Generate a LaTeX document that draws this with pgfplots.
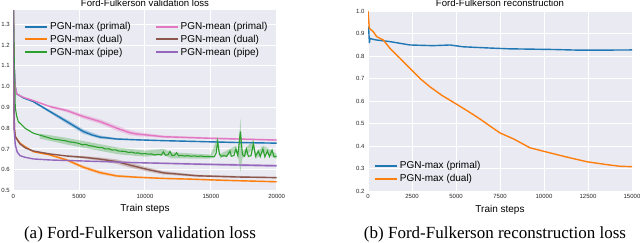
\documentclass[border=0pt]{standalone}
\usepackage{pgfplots}
\pgfplotsset{compat=1.18}
\usepackage{fontspec}
\setmainfont{Liberation Sans}
\newfontfamily\capfont{Liberation Serif}
\definecolor{sbbg}{HTML}{EAEAF2}
\definecolor{cblue}{HTML}{1F77B4}
\definecolor{corange}{HTML}{FF7F0E}
\definecolor{cgreen}{HTML}{2CA02C}
\definecolor{cpink}{HTML}{E377C2}
\definecolor{cbrown}{HTML}{8C564B}
\definecolor{cpurple}{HTML}{9467BD}
\pgfplotsset{
  legend image code/.code={\draw[#1, line width=2pt] (0pt,0pt) -- (22pt,0pt);},
  sb/.style={
    scale only axis,
    axis background/.style={fill=sbbg},
    axis line style={draw=none},
    major tick length=0pt,
    grid=major, major grid style={white, line width=1pt},
    tick label style={font=\fontsize{6}{7}\selectfont, text=black!85},
    /pgf/number format/assume math mode=true,
    /pgf/number format/1000 sep={},
    scaled ticks=false,
    yticklabel style={/pgf/number format/fixed, /pgf/number format/precision=1, /pgf/number format/fixed zerofill},
    xlabel={Train steps},
    xlabel style={at={(axis description cs:0.5,0)}, anchor=base, yshift=-21pt, font=\fontsize{10}{12}\selectfont},
    title style={at={(axis description cs:0.5,1)}, anchor=base, yshift=-1.6pt, font=\fontsize{9.6}{12}\selectfont},
    every axis plot/.append style={line width=1.4pt},
    legend cell align=left,
    legend style={draw=none, fill=none, font=\fontsize{10}{12}\selectfont},
  },
  band/.style={draw=none, fill=#1, fill opacity=0.3, forget plot},
}
\begin{document}
\begin{tikzpicture}
\useasboundingbox (0,0) rectangle (640pt,242pt);
\begin{axis}[sb,
  at={(13.3pt,51.5pt)}, anchor=south west,
  width=263.4pt, height=180.5pt,
  xmin=0, xmax=20000, ymin=0.5, ymax=1.369,
  xtick={0,5000,10000,15000,20000},
  ytick={0.5,0.6,0.7,0.8,0.9,1.0,1.1,1.2,1.3},
  title={Ford-Fulkerson validation loss},
  title style={yshift=-1.2pt},
  legend columns=2,
  legend style={at={(0.029,0.955)}, anchor=north west, /tikz/every even column/.append style={column sep=22pt}},
]
% bands
\addplot[band=cblue] coordinates {(1500,0.932)(2790,0.887)(4060,0.842)(5320,0.795)(6590,0.765)(7860,0.752)(9380,0.747)(13950,0.738)(20000,0.730)
 (20000,0.726)(13950,0.734)(9380,0.741)(7860,0.743)(6590,0.749)(5320,0.773)(4060,0.822)(2790,0.873)(1500,0.924)} -- cycle;
\addplot[band=cpink] coordinates {(2790,0.91)(4060,0.893)(5320,0.866)(6590,0.843)(7860,0.812)(8870,0.79)(9380,0.782)(11400,0.765)(15200,0.755)(20000,0.747)
 (20000,0.739)(15200,0.747)(11400,0.753)(9380,0.762)(8870,0.766)(7860,0.788)(6590,0.821)(5320,0.846)(4060,0.877)(2790,0.898)} -- cycle;
\addplot[band=corange] coordinates {(2790,0.675)(4060,0.653)(5323,0.62)(6593,0.594)(7863,0.576)(9384,0.568)(13300,0.558)(20000,0.545)
 (20000,0.539)(13300,0.552)(9384,0.56)(7863,0.564)(6593,0.578)(5323,0.604)(4060,0.641)(2790,0.667)} -- cycle;
\addplot[band=cbrown] coordinates {(4060,0.67)(5323,0.666)(6593,0.659)(7863,0.65)(8874,0.634)(10144,0.612)(11407,0.593)(13947,0.576)(20000,0.565)
 (20000,0.559)(13947,0.566)(11407,0.577)(10144,0.592)(8874,0.61)(7863,0.628)(6593,0.643)(5323,0.654)(4060,0.662)} -- cycle;
\addplot[band=cgreen] coordinates {(2000,0.774)(4000,0.754)(6000,0.73)(8000,0.706)(10000,0.692)(11400,0.70)(12000,0.684)(15000,0.673)(15520,0.76)(15700,0.676)(16900,0.715)(17100,0.68)(17240,0.85)(17400,0.685)(18230,0.745)(18400,0.678)(18950,0.715)(19300,0.705)(20000,0.676)
 (20000,0.652)(19300,0.675)(18950,0.68)(18400,0.652)(18230,0.70)(17400,0.655)(17240,0.59)(17100,0.655)(16900,0.685)(15700,0.655)(15520,0.71)(15000,0.653)(12000,0.655)(11400,0.671)(10000,0.663)(8000,0.674)(6000,0.698)(4000,0.722)(2000,0.75)} -- cycle;
\addplot[band=cpurple] coordinates {(9384,0.637)(13947,0.632)(20000,0.625)(20000,0.613)(13947,0.622)(9384,0.631)} -- cycle;
% means
\addplot[cblue] coordinates {(0,1.40)(60,1.10)(150,1.00)(260,0.965)(800,0.945)(1520,0.928)(2790,0.88)(4060,0.832)(5320,0.784)(6000,0.767)(6590,0.757)(7860,0.748)(9380,0.744)(11400,0.740)(13950,0.736)(17000,0.731)(20000,0.728)};
\addlegendentry{PGN-max (primal)}
\addplot[cpink] coordinates {(0,1.40)(60,1.10)(150,1.00)(260,0.965)(800,0.948)(1520,0.933)(2790,0.904)(4060,0.885)(5320,0.856)(6590,0.832)(7860,0.80)(8870,0.778)(9380,0.772)(11400,0.759)(15200,0.751)(20000,0.743)};
\addlegendentry{PGN-mean (primal)}
\addplot[corange] coordinates {(0,1.40)(30,1.10)(80,0.80)(150,0.76)(300,0.745)(500,0.728)(890,0.711)(1520,0.687)(2790,0.671)(4060,0.647)(5323,0.612)(6593,0.586)(7863,0.570)(9384,0.564)(11400,0.558)(13300,0.555)(16000,0.549)(20000,0.542)};
\addlegendentry{PGN-max (dual)}
\addplot[cbrown] coordinates {(0,1.40)(30,1.10)(80,0.80)(150,0.76)(300,0.745)(500,0.725)(890,0.706)(1520,0.69)(2790,0.676)(4060,0.666)(5323,0.66)(6593,0.651)(7863,0.639)(8874,0.622)(10144,0.602)(11407,0.585)(13947,0.571)(17000,0.565)(20000,0.562)};
\addlegendentry{PGN-mean (dual)}
\addplot[cgreen, line width=1.1pt] coordinates {(0,1.40)(80,1.10)(150,0.90)(250,0.86)(380,0.832)(890,0.80)(1520,0.776)(2790,0.752)(3000,0.748)(3250,0.746)(3500,0.744)(3750,0.741)(4000,0.739)(4250,0.734)(4500,0.733)(4750,0.73)(5000,0.726)(5250,0.72)(5500,0.722)(5750,0.716)(6000,0.714)(6250,0.71)(6500,0.707)(6750,0.706)(7000,0.70)(7250,0.701)(7500,0.695)(7750,0.696)(8000,0.69)(8250,0.689)(8500,0.688)(8750,0.683)(9000,0.685)(9250,0.68)(9500,0.681)(9750,0.676)(10000,0.678)(10250,0.675)(10500,0.676)(10750,0.671)(11000,0.674)(11250,0.671)(11400,0.686)(11550,0.67)(11750,0.672)(11900,0.688)(12050,0.668)(12250,0.67)(12400,0.682)(12550,0.667)(12750,0.669)(13000,0.666)(13250,0.668)(13500,0.665)(13750,0.667)(14000,0.664)(14250,0.666)(14500,0.663)(14750,0.664)(15000,0.663)(15250,0.662)(15400,0.68)(15520,0.735)(15650,0.675)(15800,0.665)(16000,0.668)(16200,0.664)(16450,0.69)(16550,0.665)(16750,0.668)(16900,0.70)(17050,0.668)(17240,0.785)(17400,0.672)(17550,0.665)(17700,0.70)(17850,0.664)(18050,0.668)(18230,0.725)(18400,0.665)(18600,0.69)(18750,0.663)(18950,0.70)(19100,0.662)(19300,0.69)(19450,0.663)(19650,0.695)(19800,0.662)(20000,0.665)};
\addlegendentry{PGN-max (pipe)}
\addplot[cpurple] coordinates {(0,1.40)(20,1.10)(60,0.80)(150,0.72)(300,0.685)(510,0.668)(890,0.66)(1520,0.652)(2790,0.647)(5323,0.642)(9384,0.634)(13947,0.627)(17000,0.623)(20000,0.619)};
\addlegendentry{PGN-mean (pipe)}
\end{axis}
\begin{axis}[sb,
  at={(368pt,51pt)}, anchor=south west,
  width=264pt, height=180pt,
  xmin=0, xmax=15000, ymin=0.2, ymax=1.0,
  xtick={0,2500,5000,7500,10000,12500,15000},
  ytick={0.2,0.3,0.4,0.5,0.6,0.7,0.8,0.9,1.0},
  title={Ford-Fulkerson reconstruction},
  legend style={at={(0.01,0.02)}, anchor=south west},
]
\addplot[cblue] coordinates {(0,0.93)(40,0.92)(80,0.858)(114,0.878)(300,0.874)(494,0.871)(1250,0.864)(2386,0.849)(3693,0.846)(4659,0.849)(5398,0.841)(6760,0.836)(8000,0.832)(10511,0.829)(12000,0.826)(13000,0.826)(15000,0.827)};
\addlegendentry{PGN-max (primal)}
\addplot[corange] coordinates {(0,1.0)(74,0.923)(300,0.908)(494,0.886)(869,0.871)(1250,0.834)(1818,0.79)(2386,0.745)(2955,0.70)(3523,0.663)(4200,0.625)(4943,0.59)(5650,0.556)(6364,0.52)(7000,0.485)(7500,0.458)(8258,0.432)(9205,0.392)(10511,0.366)(11500,0.347)(12443,0.33)(13500,0.318)(14300,0.31)(15000,0.308)};
\addlegendentry{PGN-max (dual)}
\end{axis}
\node[anchor=base, font=\capfont\fontsize{17}{20}\selectfont] at (140pt,3.5pt) {(a) Ford-Fulkerson validation loss};
\node[anchor=base, font=\capfont\fontsize{17}{20}\selectfont] at (495pt,3.5pt) {(b) Ford-Fulkerson reconstruction loss};
\end{tikzpicture}
\end{document}
